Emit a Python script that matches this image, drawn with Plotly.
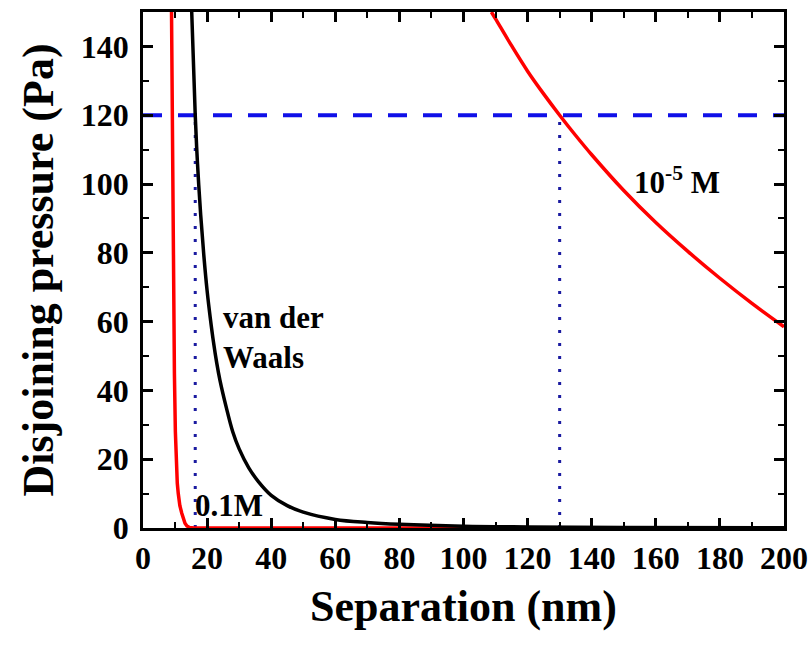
import plotly.graph_objects as go

# ---- data ----
vdw_x = [15.2, 16.3, 17, 18, 19, 20, 21, 22, 23, 24, 26, 28, 30, 33, 36, 40, 45, 50, 60, 70, 80, 100, 120, 150, 200]
vdw_y = [150, 120, 106, 91, 79, 69, 61, 54, 48, 43, 35, 28, 23, 17.5, 13.5, 9.5, 6.5, 4.6, 2.5, 1.6, 1.07, 0.5, 0.3, 0.15, 0.07]

c01_x = [8.9, 9.1, 9.3, 9.5, 9.8, 10.1, 10.4, 10.7, 11.0, 11.5, 12.1, 12.6, 13.1, 13.7, 14.5, 16, 50, 100, 200]
c01_y = [150, 120, 90, 70, 45, 28, 18, 13, 10, 6.5, 4.3, 2.6, 1.4, 0.6, 0.15, 0, 0, 0, 0]

c5_x = [108.7, 110, 115, 120, 125, 130, 135, 140, 150, 160, 170, 180, 190, 200]
c5_y = [150, 148, 140.2, 132.8, 126.2, 120, 114.1, 108.5, 98.1, 88.8, 80.4, 72.6, 65.3, 58.5]

ref_pressure = 120
cross_x = [16.3, 130]

x_range = [0, 200]
y_range = [0, 150]

font_family = "Liberation Serif, Times New Roman, serif"

fig = go.Figure()

# horizontal dashed line at reference pressure
fig.add_trace(go.Scatter(x=x_range, y=[ref_pressure, ref_pressure], mode="lines",
                         line=dict(color="#1010e8", width=4, dash="19px,16px"),
                         hoverinfo="skip", showlegend=False))
# vertical dotted lines
for cx in cross_x:
    fig.add_trace(go.Scatter(x=[cx, cx], y=[0, ref_pressure], mode="lines",
                             line=dict(color="#1a1aa0", width=3, dash="3px,10px"),
                             hoverinfo="skip", showlegend=False))

fig.add_trace(go.Scatter(x=c01_x, y=c01_y, mode="lines",
                         line=dict(color="#ff0000", width=3.5), showlegend=False))
fig.add_trace(go.Scatter(x=c5_x, y=c5_y, mode="lines", line_shape="spline",
                         line=dict(color="#ff0000", width=3.5), showlegend=False))
fig.add_trace(go.Scatter(x=vdw_x, y=vdw_y, mode="lines", line_shape="spline",
                         line=dict(color="#000000", width=3.5), showlegend=False))

ann_font = dict(family=font_family, size=31, color="black", weight="bold")
fig.add_annotation(x=24.4, y=67, text="van der<br>Waals", showarrow=False,
                   xanchor="left", yanchor="top", align="left", font=ann_font)
fig.add_annotation(x=15.6, y=6.4, text="0.1M", showarrow=False,
                   xanchor="left", yanchor="middle", font=ann_font)
fig.add_annotation(x=152.5, y=101, text="10<sup>-5</sup> M", showarrow=False,
                   xanchor="left", yanchor="middle", font=ann_font)

axis_common = dict(
    showgrid=False, zeroline=False, showline=True, linecolor="black", linewidth=2.5,
    mirror="allticks", ticks="inside", ticklen=10, tickwidth=2.5, tickcolor="black",
    tickfont=dict(family=font_family, size=32, color="black", weight="bold"),
    automargin=False,
)

fig.update_xaxes(range=x_range, tick0=0, dtick=20,
                 minor=dict(dtick=10, ticks="inside", ticklen=6, tickwidth=2, tickcolor="black"),
                 title=dict(text="Separation (nm)", standoff=16,
                            font=dict(family=font_family, size=44, color="black", weight="bold")),
                 ticklabelstandoff=0,
                 **axis_common)
fig.update_yaxes(range=y_range, tick0=0, dtick=20,
                 minor=dict(dtick=10, ticks="inside", ticklen=6, tickwidth=2, tickcolor="black"),
                 title=dict(text="Disjoining pressure (Pa)", standoff=14,
                            font=dict(family=font_family, size=44, color="black", weight="bold")),
                 ticklabelstandoff=5,
                 **axis_common)

fig.update_layout(width=810, height=645, margin=dict(l=143, r=26, t=12, b=117),
                  plot_bgcolor="white", paper_bgcolor="white")

fig.write_html("out.html")
